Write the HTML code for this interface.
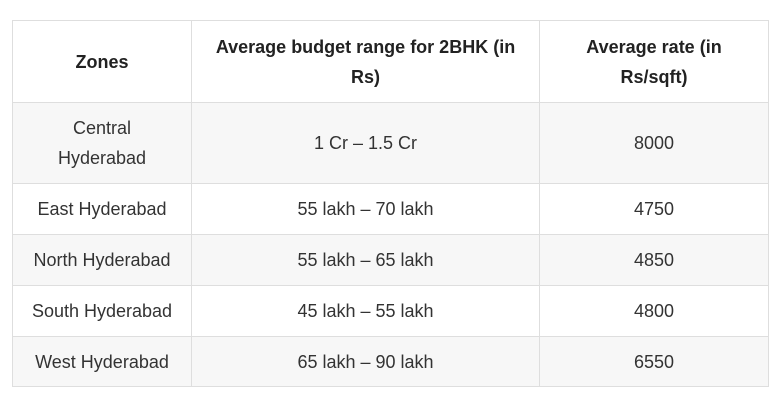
<!DOCTYPE html>
<html><head><meta charset="utf-8"><style>
html,body{margin:0;padding:0;background:#fff;width:775px;height:402px;overflow:hidden}
table{position:absolute;left:12px;top:20px;border-collapse:collapse;font-family:"Liberation Sans",sans-serif;font-size:18px;color:#333;table-layout:fixed}
td,th{border:1px solid #dedede;text-align:center;vertical-align:middle;padding:0 12px;line-height:30px}
th{font-weight:bold;color:#222;font-size:18px}
tr.s td{background:#f7f7f7}
</style></head><body>
<table>
<colgroup><col style="width:179px"><col style="width:348px"><col style="width:229px"></colgroup>
<tr style="height:82px"><th>Zones</th><th>Average budget range for 2BHK (in Rs)</th><th>Average rate (in Rs/sqft)</th></tr>
<tr class="s" style="height:81px"><td>Central<br>Hyderabad</td><td>1 Cr – 1.5 Cr</td><td>8000</td></tr>
<tr style="height:51px"><td>East Hyderabad</td><td>55 lakh – 70 lakh</td><td>4750</td></tr>
<tr class="s" style="height:51px"><td>North Hyderabad</td><td>55 lakh – 65 lakh</td><td>4850</td></tr>
<tr style="height:51px"><td>South Hyderabad</td><td>45 lakh – 55 lakh</td><td>4800</td></tr>
<tr class="s" style="height:50px"><td>West Hyderabad</td><td>65 lakh – 90 lakh</td><td>6550</td></tr>
</table>
</body></html>
